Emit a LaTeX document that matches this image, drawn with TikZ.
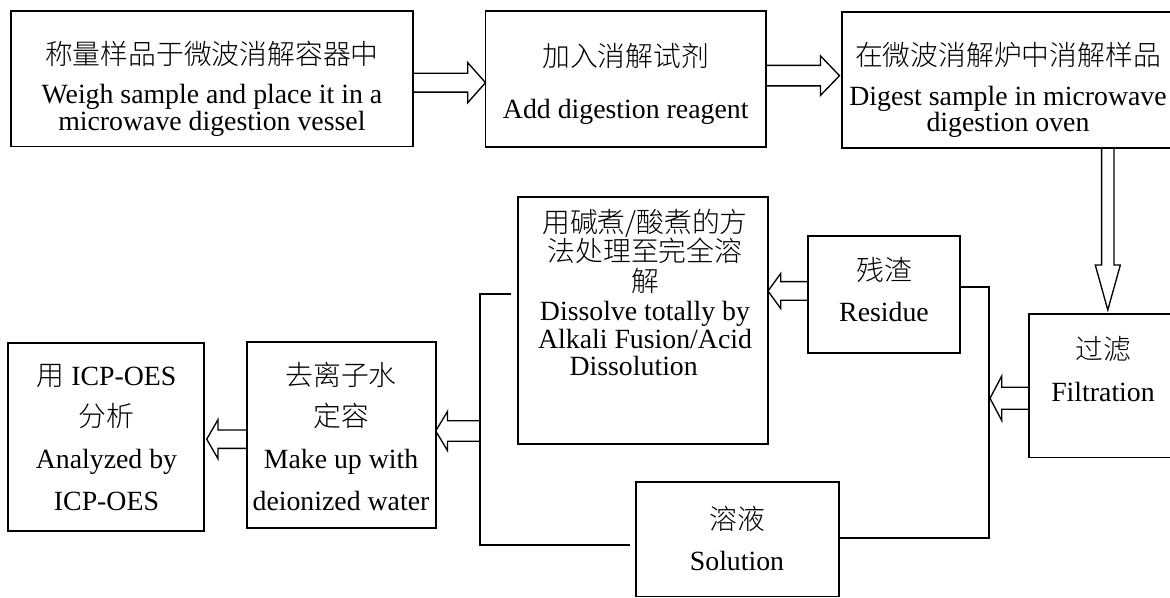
\documentclass[tikz,border=0pt]{standalone}
\usepackage{fontspec}
\setmainfont{Liberation Serif}
\newfontfamily\cjk{Noto Sans CJK SC}[UprightFont={* Light}]
\usetikzlibrary{calc}
\setlength{\lineskiplimit}{-100pt}
\newcommand\zh[1]{{\cjk #1}}
\newcommand\mkbox[5]{\node[box, minimum width={(#4-#2)*0.75pt}, minimum height={(#5-#3)*0.75pt}] (#1) at ({(#2+#4)/2},{(#3+#5)/2}) {};}
% horizontal block arrow: #1 start, #2 tip, #3 body half, #4 head half, #5 signed head length
\newcommand\harrow[5]{\draw[blk] let \p1=#1, \p2=#2 in ({\x1},{\y2+#3}) -- ({\x2-(#5)},{\y2+#3}) -- ({\x2-(#5)},{\y2+#4}) -- (\p2) -- ({\x2-(#5)},{\y2-#4}) -- ({\x2-(#5)},{\y2-#3}) -- ({\x1},{\y2-#3});}
% vertical block arrow
\newcommand\varrow[5]{\draw[blk] let \p1=#1, \p2=#2 in ({\x2+#3},{\y1}) -- ({\x2+#3},{\y2-(#5)}) -- ({\x2+#4},{\y2-(#5)}) -- (\p2) -- ({\x2-#4},{\y2-(#5)}) -- ({\x2-#3},{\y2-(#5)}) -- ({\x2-#3},{\y1});}
\newcommand\tfont[1]{\fontsize{20.85pt}{#1}\selectfont}
\begin{document}
\begin{tikzpicture}[x=0.75pt,y=-0.75pt,
  box/.style={draw, line width=1.25pt, inner sep=0pt, outer sep=0pt},
  blk/.style={draw, line width=1pt, line join=miter},
  tx/.style={inner sep=0pt, align=center, anchor=north, font=\tfont{#1}},
  conn/.style={line width=1.25pt}]
\useasboundingbox (0,0) rectangle (1170,598);
\clip (0,0) rectangle (1170,598);
% boxes
\mkbox{b1}{10.7}{10.7}{413}{146.5}
\mkbox{b2}{485.5}{11}{766}{147}
\mkbox{b3}{842}{11.7}{1175}{148}
\mkbox{dis}{518}{197}{768}{444}
\mkbox{res}{808.3}{235.7}{960}{352.7}
\mkbox{fil}{1029}{314}{1177}{457.5}
\mkbox{sol}{636}{482.3}{839}{596.5}
\mkbox{icp}{8.3}{342.7}{204.3}{531}
\mkbox{dr}{246.7}{342.3}{435.7}{528.3}
% texts
\node[tx=20.25pt] (t1) at (211.9,37.3) {\rule{0pt}{20pt}\zh{称量样品于微波消解容器中}\\[9pt]Weigh sample and place it in a\\microwave digestion vessel};
\node[tx=38.9pt] (t2) at (625.7,39.7) {\rule{0pt}{20pt}\zh{加入消解试剂}\\Add digestion reagent};
\node[tx=19.5pt] (t3) at (1008,38.3) {\rule{0pt}{20pt}\zh{在微波消解炉中消解样品}\\[10.9pt]Digest sample in microwave\\digestion oven};
\node[tx=20.6pt] (tdis) at (645,205.3) {\rule{0pt}{20pt}\zh{用碱煮/酸煮的方}\\[1.5pt]\zh{法处理至完全溶}\\[1.5pt]\zh{解}\\[1.5pt]Dissolve totally by\hspace*{17pt}\\Alkali Fusion/Acid\hspace*{17pt}\\Dissolution\hspace*{17pt}};
\node[tx=30.8pt] (tres) at (884,253.9) {\rule{0pt}{20pt}\zh{残渣}\\Residue};
\node[tx=32pt] (tfil) at (1103,332.3) {\rule{0pt}{20pt}\zh{过滤}\\Filtration};
\node[tx=30.75pt] (tsol) at (737,502.3) {\rule{0pt}{20pt}\zh{溶液}\\Solution};
\node[tx=31.25pt] (ticp) at (106.5,358.3) {\rule{0pt}{20pt}\zh{用} ICP-OES\\\zh{分析}\\Analyzed by\\ICP-OES};
\node[tx=31.25pt] (tdr) at (341,358.3) {\rule{0pt}{20pt}\zh{去离子水}\\\zh{定容}\\Make up with\\deionized water};
% bracket coordinates
\coordinate (lbstub) at (511,294);
\coordinate (lbtop) at (480,294);
\coordinate (lbmid) at (480,431);
\coordinate (lbbot) at (480,545);
\coordinate (lbend) at (630,545);
\coordinate (rbtop) at (989,287.3);
\coordinate (rbbot) at (989,538);
\coordinate (rbmid) at (990,398.3);
% bracket lines
\draw[conn] (lbstub) -- (lbtop) -- (lbbot) -- (lbend);
\draw[conn] (res.east |- rbtop) -- (rbtop) -- (rbbot) -- (sol.east |- rbbot);
% block arrows
\harrow{(b1.east)}{($(b2.west)+(0,3.7)$)}{7.1pt}{15pt}{13.3pt}
\harrow{(b2.east)}{($(b3.west)+(-2.5,-4.2)$)}{7.7pt}{14.8pt}{14.25pt}
\varrow{(b3.south)}{($(fil.north)+(4.8,-4)$)}{4.65pt}{9.4pt}{-33.75pt}
\harrow{(fil.west)}{(rbmid)}{8.25pt}{16.7pt}{-8.8pt}
\harrow{(res.west)}{($(dis.east)+(0,-29.5)$)}{7pt}{13.1pt}{-9.5pt}
\harrow{(lbmid)}{($(dr.east)+(0,-4.3)$)}{7.65pt}{14.6pt}{-8.8pt}
\harrow{(dr.west)}{($(icp.east)+(2.4,2.35)$)}{6.9pt}{14.7pt}{-8.5pt}
\end{tikzpicture}
\end{document}
